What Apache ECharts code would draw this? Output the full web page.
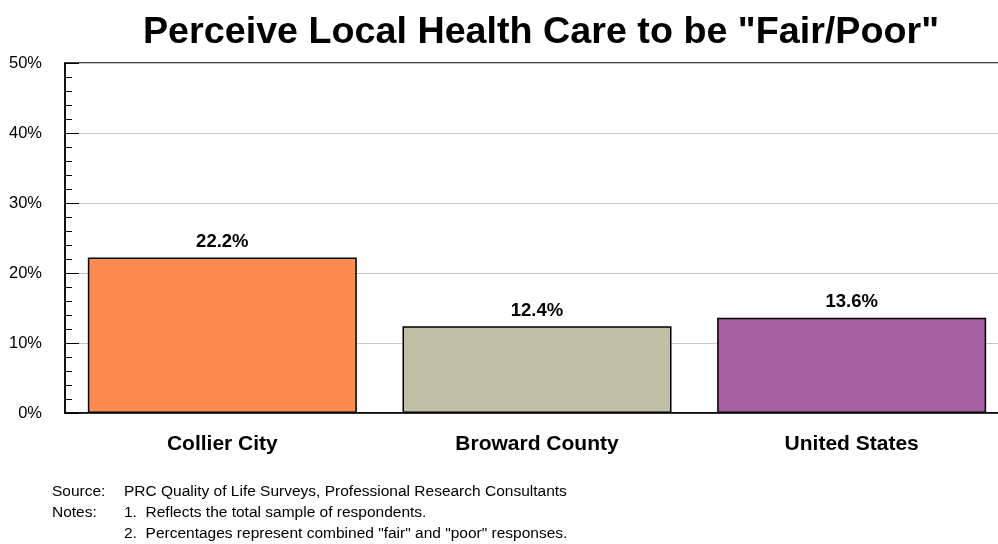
<!DOCTYPE html>
<html>
<head>
<meta charset="utf-8">
<script src="https://cdn.jsdelivr.net/npm/echarts@6/dist/echarts.min.js"></script>
<style>
  html, body { margin: 0; padding: 0; background: #fff; }
  #chart { width: 998px; height: 544px; }
</style>
</head>
<body>
<div id="chart"></div>
<script>
// Share of respondents rating local health care "fair" or "poor"
const categories = ['Collier City', 'Broward County', 'United States'];
const values = [22.2, 12.4, 13.6];
const barColors = ['#FB8B4F', '#BFBFA6', '#A460A0'];
const yTicks = [0, 10, 20, 30, 40, 50];

const font = '"Liberation Sans", Arial, sans-serif';

const chart = echarts.init(document.getElementById('chart'), null, { renderer: 'canvas' });

chart.setOption({
  animation: false,
  title: {
    text: 'Perceive Local Health Care to be "Fair/Poor"',
    left: 536,
    textAlign: 'center',
    top: 9,
    textStyle: { fontFamily: font, fontSize: 37.7, fontWeight: 'bold', color: '#000' }
  },
  grid: {
    left: 65, width: 944, top: 63, height: 350,
    outerBoundsMode: 'none',
    show: true, borderColor: '#000', borderWidth: 1.5, backgroundColor: 'transparent'
  },
  xAxis: {
    type: 'category',
    data: categories,
    axisLine: { lineStyle: { color: '#000', width: 1.5 } },
    axisTick: { show: false },
    axisLabel: {
      margin: 21, fontFamily: font, fontSize: 21, fontWeight: 'bold', color: '#000'
    }
  },
  yAxis: {
    type: 'value',
    min: yTicks[0], max: yTicks[yTicks.length - 1], interval: 10,
    axisLine: { show: true, lineStyle: { color: '#000', width: 1.5 } },
    axisTick: { show: true, inside: true, length: 14, lineStyle: { color: '#000', width: 1 } },
    minorTick: { show: true, splitNumber: 5, length: 7, lineStyle: { color: '#000', width: 1 } },
    splitLine: { show: true, lineStyle: { color: '#c8c8c8', width: 1 } },
    axisLabel: {
      margin: 23, fontFamily: font, fontSize: 16.5, color: '#000',
      formatter: v => v + '%'
    }
  },
  series: [{
    type: 'bar',
    data: values.map((v, i) => ({
      value: v,
      itemStyle: { color: barColors[i] }
    })),
    barWidth: 269,
    itemStyle: { borderColor: '#000', borderWidth: 1.5 },
    label: {
      show: true, position: 'top', distance: 6,
      fontFamily: font, fontSize: 18.5, fontWeight: 'bold', color: '#000',
      formatter: p => p.value.toFixed(1) + '%'
    }
  }],
  graphic: [
    { type: 'text', left: 52, top: 484, style: { text: 'Source:', font: '15.5px ' + font, fill: '#000' } },
    { type: 'text', left: 124, top: 484, style: { text: 'PRC Quality of Life Surveys, Professional Research Consultants', font: '15.5px ' + font, fill: '#000' } },
    { type: 'text', left: 52, top: 505, style: { text: 'Notes:', font: '15.5px ' + font, fill: '#000' } },
    { type: 'text', left: 124, top: 505, style: { text: '1.  Reflects the total sample of respondents.', font: '15.5px ' + font, fill: '#000' } },
    { type: 'text', left: 124, top: 526, style: { text: '2.  Percentages represent combined "fair" and "poor" responses.', font: '15.5px ' + font, fill: '#000' } }
  ]
});
</script>
</body>
</html>
